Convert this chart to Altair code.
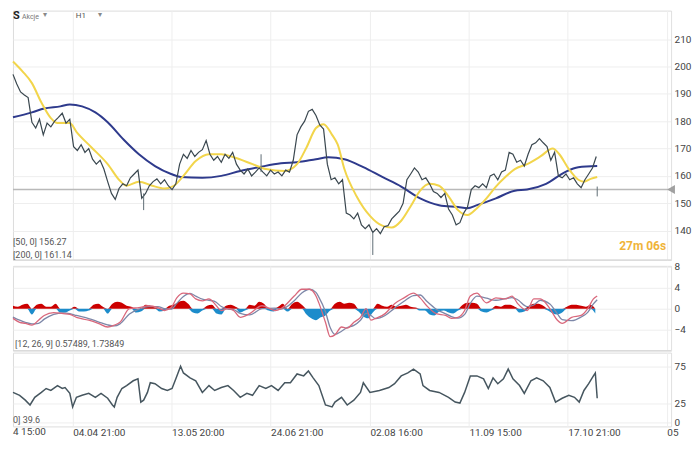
import altair as alt
import pandas as pd

# ---------------- data (x = position along the bar axis, 0 .. 695) ----------------
price_x0 = 0
price_step = 4
price_close = [
    197.1, 193.6, 190.7, 189.6, 188.6, 179.6, 177.5, 180.7, 175.0, 179.3,
    177.9, 180.0, 181.4, 182.9, 179.3, 180.7, 170.7, 169.3, 171.4, 168.6,
    170.0, 166.1, 164.3, 165.7, 162.5, 157.9, 153.6, 151.4, 155.4, 157.1,
    156.4, 159.3, 160.7, 162.1, 151.8, 153.6, 156.4, 157.9, 158.9, 157.1,
    158.6, 156.4, 155.0, 157.1, 164.3, 167.9, 166.4, 169.3, 167.1, 168.6,
    169.6, 172.9, 167.9, 165.7, 167.1, 165.0, 167.9, 166.4, 168.6, 164.3,
    162.1, 160.7, 162.5, 160.0, 161.4, 162.9, 161.4, 160.0, 162.1, 160.7,
    161.4, 160.0, 162.1, 161.4, 165.7, 175.0, 177.9, 180.0, 183.6, 184.3,
    182.1, 178.6, 177.1, 164.3, 158.6, 159.3, 157.1, 158.6, 146.4, 145.7,
    144.3, 146.4, 142.1, 140.7, 142.1, 139.3, 140.7, 138.9, 141.4, 141.8,
    144.3, 145.7, 147.1, 150.0, 158.6, 160.7, 162.9, 161.4, 158.6, 159.3,
    157.1, 154.3, 153.6, 152.1, 153.6, 147.9, 145.7, 142.1, 142.9, 146.4,
    148.6, 155.0, 156.4, 155.7, 157.1, 155.7, 160.0, 160.7, 158.6, 161.4,
    162.1, 168.6, 167.9, 165.0, 165.7, 163.6, 167.9, 171.4, 172.1, 173.6,
    172.1, 170.7, 165.7, 168.6, 160.0, 159.3, 160.7, 158.6, 159.3, 157.1,
    155.7, 158.6, 160.7, 162.9, 167.1,
]

sma50_x = [0, 10, 20, 30, 40, 47, 60, 67, 83, 100, 113, 120, 133, 147, 160, 170, 180,
           193, 207, 220, 233, 253, 267, 287, 300, 310, 320, 328, 337, 343, 350, 363,
           377, 390, 400, 410, 420, 430, 440, 450, 460, 470, 480, 490, 500, 510, 520,
           530, 543, 557, 570, 577, 587, 597, 603, 610, 617]
sma50_v = [201.8, 198.2, 193.9, 186.8, 181.1, 179.3, 179.3, 176.1, 170.4, 164.3, 158.2,
           156.4, 157.9, 156.4, 155.4, 156.4, 160.0, 165.4, 167.9, 167.9, 166.8, 164.3,
           162.5, 161.8, 164.3, 170.4, 177.5, 178.9, 175.0, 171.4, 162.5, 152.5, 145.4,
           141.8, 141.1, 143.6, 148.9, 154.6, 157.1, 156.4, 152.5, 147.5, 145.7, 148.2,
           151.8, 156.1, 159.6, 162.5, 164.3, 167.1, 170.0, 167.9, 162.5, 158.6, 157.9,
           158.9, 159.6]

sma200_x = [0, 20, 33, 50, 60, 73, 87, 100, 117, 133, 150, 167, 177, 200, 220, 240, 260,
            283, 300, 320, 333, 350, 370, 390, 410, 430, 450, 470, 480, 490, 510, 530,
            543, 563, 583, 597, 617]
sma200_v = [181.4, 183.2, 184.6, 185.4, 186.1, 185.4, 183.2, 179.6, 173.2, 167.9, 163.6,
            160.7, 159.6, 159.3, 160.0, 161.8, 163.2, 164.6, 165.0, 166.1, 166.8, 166.1,
            163.2, 159.6, 156.1, 151.8, 149.3, 148.6, 148.2, 149.3, 151.8, 154.6, 155.0,
            157.1, 161.4, 163.2, 163.6]

wick_x = [138, 262, 380, 617]
wick_low = [147.5, 161.4, 131.1, 152.5]
wick_high = [153.6, 167.9, 139.3, 156.1]

last_price = 155.0

macd_x = [0, 7, 13, 20, 27, 33, 43, 53, 60, 67, 80, 90, 100, 107, 113, 123, 133, 143, 153,
          160, 167, 173, 180, 187, 193, 200, 207, 213, 220, 227, 233, 240, 250, 263, 277,
          283, 297, 305, 313, 320, 323, 330, 335, 340, 347, 353, 360, 367, 373, 378, 383,
          393, 403, 413, 423, 430, 437, 447, 457, 463, 470, 477, 483, 490, 500, 510, 520,
          527, 533, 543, 550, 557, 567, 575, 580, 590, 600, 607, 613, 617]
macd_v = [-1.85, -2.6, -2.8, -3.15, -2.2, -1.3, -0.75, -0.95, -1.1, -1.65,
          -2.2, -2.8, -3.5, -3.15, -2.6, 0.0, 0.2, 0.55, 0.2, -0.35,
          0.2, 2.05, 2.95, 2.8, 1.85, 1.5, 1.85, 0.95, -0.35, 0.0,
          -0.35, -1.65, -0.95, 0.55, -0.35, 0.0, 2.4, 3.7, 3.7, 2.4,
          1.1, -2.6, -5.35, -5.0, -3.5, -3.7, -2.6, -1.65, 0.0, -2.2,
          -1.85, -0.95, 0.95, 2.05, 2.95, 2.05, 0.55, -0.95, -1.3, -1.85,
          -1.65, -0.35, 2.4, 2.95, 1.1, 2.05, 1.85, 2.4, 0.95, -0.35,
          1.85, 1.85, 0.0, -2.2, -2.8, -1.65, -1.3, 0.0, 1.85, 2.4]
signal_v = [-1.6, -2.2, -2.6, -2.9, -2.8, -2.0, -1.1, -0.8, -0.95, -1.3,
            -1.9, -2.5, -3.1, -3.3, -2.9, -1.0, -0.1, 0.4, 0.4, 0.0,
            -0.1, 1.0, 2.3, 2.9, 2.4, 1.8, 1.6, 1.4, 0.4, -0.1,
            -0.2, -0.9, -1.2, 0.0, 0.1, -0.1, 1.5, 3.0, 3.7, 3.1,
            2.2, -0.6, -3.6, -4.9, -4.3, -3.6, -3.2, -2.2, -0.9, -1.3,
            -1.9, -1.3, 0.1, 1.4, 2.5, 2.6, 1.4, -0.1, -1.0, -1.5,
            -1.8, -1.1, 1.0, 2.4, 2.0, 1.6, 1.9, 2.1, 1.7, 0.4,
            0.7, 1.6, 0.9, -1.0, -2.1, -2.3, -1.6, -0.7, 0.9, 1.7]

hist_x0 = 0
hist_step = 5
hist_v = [0.55, 0.37, 0.74, 0.93, -1.1, 0.74, 0.93, 0.37, 0.37, 0.93,
          -0.74, -0.74, -0.37, 0.37, -0.55, -0.55, -0.37, 0.74, 0.93, 0.37,
          -0.93, 0.93, 1.3, 1.1, 0.55, 0.37, -0.74, -0.55, 0.74, 0.55,
          0.2, -0.55, -0.37, 0.55, 0.74, 1.3, 1.5, 0.93, -0.74, -0.93,
          -0.37, 0.55, 0.74, -0.93, -1.1, 0.55, 0.74, 0.37, -0.74, -0.37,
          0.74, 0.55, 1.3, 0.93, -0.37, -0.55, 0.37, 0.93, -0.55, 0.93,
          1.3, 0.74, -1.1, -1.85, -2.2, -1.65, -1.3, -0.37, 0.93, 1.3,
          0.93, 1.1, 0.93, -0.55, -1.5, -1.85, -0.74, 0.93, 0.55, 0.37,
          0.74, 0.37, 0.55, 0.74, 0.37, 0.2, -0.37, -0.37, -1.1, -1.3,
          -0.55, -0.37, -0.74, -0.93, -0.37, 0.74, 1.1, 1.1, 0.93, -0.55,
          -0.74, -0.37, 0.55, 0.37, 0.74, 0.74, 0.37, -0.74, -0.55, 0.55,
          0.93, 0.93, 0.55, -0.37, -0.93, -1.1, -0.74, 0.37, 0.74, 0.74,
          0.55, 0.37, 0.74, -0.93]

rsi_x = [0, 7, 13, 18, 23, 30, 35, 40, 47, 52,
         55, 60, 63, 67, 73, 80, 87, 93, 100, 105,
         107, 110, 115, 120, 127, 132, 135, 138, 142, 145,
         150, 157, 163, 168, 172, 177, 180, 187, 193, 200,
         207, 213, 220, 227, 233, 240, 247, 253, 260, 267,
         273, 280, 287, 293, 300, 307, 312, 317, 323, 330,
         337, 340, 347, 353, 360, 367, 370, 377, 387, 397,
         403, 410, 417, 423, 430, 433, 440, 450, 460, 467,
         472, 477, 483, 490, 497, 502, 507, 512, 518, 523,
         528, 535, 540, 547, 553, 560, 567, 573, 580, 587,
         593, 598, 603, 608, 613, 615, 617]
rsi_v = [40.1, 36.2, 29.8, 23.3, 33.6, 40.1, 45.3, 42.7, 49.2, 45.3,
         46.6, 38.8, 20.7, 33.6, 36.2, 38.8, 33.6, 38.8, 32.3, 23.3,
         20.7, 33.6, 45.3, 49.2, 55.6, 58.2, 27.2, 29.8, 40.1, 53.0,
         51.7, 45.3, 42.7, 45.3, 58.2, 75.0, 66.0, 59.5, 55.6, 40.1,
         49.2, 42.7, 46.6, 49.2, 42.7, 33.6, 38.8, 36.2, 49.2, 45.3,
         49.2, 42.7, 53.0, 53.0, 64.7, 62.1, 68.6, 59.5, 49.2, 23.3,
         20.7, 27.2, 33.6, 23.3, 29.8, 40.1, 53.0, 40.1, 42.7, 46.6,
         51.7, 62.1, 66.0, 71.2, 64.7, 49.2, 42.7, 40.1, 33.6, 27.2,
         25.9, 40.1, 62.1, 62.1, 58.2, 45.3, 59.5, 51.7, 58.2, 71.2,
         58.2, 49.2, 38.8, 55.6, 59.5, 55.6, 46.6, 27.2, 32.3, 36.2,
         33.6, 27.2, 42.7, 51.7, 62.1, 66.0, 32.3]

x_ticks = [63, 167.5, 272, 377, 481.5, 586, 690.5]
x_tick_labels = ["04.04 21:00", "13.05 20:00", "24.06 21:00", "02.08 16:00",
                 "11.09 15:00", "17.10 21:00", "05"]
price_ticks = [140, 150, 160, 170, 180, 190, 200, 210]
macd_ticks = [-4, 0, 4, 8]
rsi_ticks = [0, 25, 75]

# ---------------- layout / style ----------------
W = 660
H_PRICE, H_MACD, H_RSI = 250, 85, 74
X_MAX = 695
FONT = "Roboto"
GRID = "#eeeeee"
TXT = "#555555"

label_expr = "''"
for v, t in reversed(list(zip(x_ticks, x_tick_labels))):
    label_expr = f"datum.value == {v} ? '{t}' : {label_expr}"

x_scale = alt.Scale(domain=[0, X_MAX], nice=False, zero=False)
axis_x_hidden = alt.Axis(values=x_ticks, labels=False, ticks=False, domain=False,
                         grid=True, gridColor=GRID, title=None)
axis_x_bottom = alt.Axis(values=x_ticks, labelExpr=label_expr, labelAlign="left",
                         labelPadding=1, labelFontSize=10, labelColor="#444444",
                         labelFont=FONT, labelOverlap=False, labelFlush=False,
                         ticks=False, domain=False, grid=True, gridColor=GRID, title=None)


def X(field, bottom=False):
    return alt.X(f"{field}:Q", scale=x_scale, axis=axis_x_bottom if bottom else axis_x_hidden)


def y_axis(values):
    return alt.Axis(orient="right", values=values, grid=True, gridColor=GRID, ticks=False,
                    domain=True, domainColor="#e2e2e2", labelColor="#444444", labelFontSize=10,
                    labelFont=FONT, labelPadding=3, title=None)


price_scale = alt.Scale(domain=[129.3, 220.4], nice=False, zero=False)
macd_scale = alt.Scale(domain=[-8.0, 8.15], nice=False, zero=False)
rsi_scale = alt.Scale(domain=[-5.2, 93.1], nice=False, zero=False)


def PY(field):
    return alt.Y(f"{field}:Q", scale=price_scale, axis=y_axis(price_ticks))


def MY(field):
    return alt.Y(f"{field}:Q", scale=macd_scale, axis=y_axis(macd_ticks))


def RY(field):
    return alt.Y(f"{field}:Q", scale=rsi_scale, axis=y_axis(rsi_ticks))


def label(text, x, y, size=9, color=TXT, weight="normal", align="left", baseline="middle"):
    return alt.Chart(pd.DataFrame({"t": [text]})).mark_text(
        align=align, baseline=baseline, fontSize=size, color=color,
        fontWeight=weight, font=FONT
    ).encode(text="t:N", x=alt.value(x), y=alt.value(y))


# ---------------- frames ----------------
price_df = pd.DataFrame({"x": [price_x0 + i * price_step for i in range(len(price_close))],
                         "p": price_close})
sma50_df = pd.DataFrame({"x": sma50_x, "p": sma50_v})
sma200_df = pd.DataFrame({"x": sma200_x, "p": sma200_v})
wick_df = pd.DataFrame({"x": wick_x, "lo": wick_low, "hi": wick_high})
last_df = pd.DataFrame({"x": [X_MAX], "p": [last_price]})
macd_df = pd.DataFrame({"x": macd_x, "m": macd_v, "s": signal_v})
hist_df = pd.DataFrame({"x": [hist_x0 + i * hist_step for i in range(len(hist_v))], "h": hist_v})
rsi_df = pd.DataFrame({"x": rsi_x, "r": rsi_v})

# ---------------- price panel ----------------
p_last = alt.Chart(last_df).mark_rule(color="#b9b9b9", strokeWidth=1.6).encode(y=PY("p"))
p_tag = alt.Chart(last_df).mark_point(shape="triangle-left", filled=True, color="#a0a0a0",
                                      size=80, opacity=1).encode(x=X("x"), y=PY("p"))
p_sma200 = alt.Chart(sma200_df).mark_line(color="#2e3a8c", strokeWidth=2,
                                          interpolate="monotone").encode(x=X("x"), y=PY("p"))
p_sma50 = alt.Chart(sma50_df).mark_line(color="#f2d54b", strokeWidth=2,
                                        interpolate="monotone").encode(x=X("x"), y=PY("p"))
p_line = alt.Chart(price_df).mark_line(color="#3a474f", strokeWidth=1.2).encode(x=X("x"), y=PY("p"))
p_wick = alt.Chart(wick_df).mark_rule(color="#5f6d75", strokeWidth=1).encode(
    x=X("x"), y=PY("lo"), y2="hi:Q")
p_divider = alt.Chart(last_df).mark_rule(color="#d6d6d6", strokeWidth=1).encode(y=alt.value(H_PRICE))

price_panel = alt.layer(
    p_last, p_sma200, p_sma50, p_line, p_wick, p_tag, p_divider,
    label("S", 0, 5, size=11, color="#222222", weight="bold"),
    label("Akcje", 9, 6, size=7, color="#777777"),
    label("▾", 30, 4, size=8, color="#888888"),
    label("H1", 63, 5, size=8, color="#555555"),
    label("▾", 85, 4, size=8, color="#888888"),
    label("[50, 0] 156.27", 0, 232),
    label("[200, 0] 161.14", 0, 245),
    label("27m 06s", 655, 236, size=12, color="#f0b43a", weight="bold", align="right"),
).properties(width=W, height=H_PRICE)

# ---------------- MACD panel ----------------
m_pos = alt.Chart(hist_df).transform_calculate(pos="max(datum.h, 0)").mark_area(
    color="#cc0000", interpolate="monotone", opacity=1
).encode(x=X("x"), y=MY("pos"), y2=alt.datum(0))
m_neg = alt.Chart(hist_df).transform_calculate(neg="min(datum.h, 0)").mark_area(
    color="#1c8ccb", interpolate="monotone", opacity=1
).encode(x=X("x"), y=MY("neg"), y2=alt.datum(0))
m_signal = alt.Chart(macd_df).mark_line(color="#7d87a8", strokeWidth=1.3,
                                        interpolate="monotone").encode(x=X("x"), y=MY("s"))
m_macd = alt.Chart(macd_df).mark_line(color="#d9687c", strokeWidth=1.3,
                                      interpolate="monotone").encode(x=X("x"), y=MY("m"))
m_divider = alt.Chart(last_df).mark_rule(color="#d6d6d6", strokeWidth=1).encode(y=alt.value(H_MACD))

macd_panel = alt.layer(
    m_pos, m_neg, m_signal, m_macd, m_divider,
    label("[12, 26, 9] 0.57489, 1.73849", 2, 78),
).properties(width=W, height=H_MACD)

# ---------------- RSI panel ----------------
r_line = alt.Chart(rsi_df).mark_line(color="#46565f", strokeWidth=1.5).encode(
    x=X("x", bottom=True), y=RY("r"))

rsi_panel = alt.layer(
    r_line,
    label("0] 39.6", 0, 68),
    label("4 15:00", 0, H_RSI + 1, size=10, color="#444444", baseline="top"),
).properties(width=W, height=H_RSI)

chart = alt.vconcat(price_panel, macd_panel, rsi_panel, spacing=0).resolve_scale(
    y="independent"
).properties(
    padding={"left": 0, "right": 0, "top": 0, "bottom": 0}
).configure_view(strokeWidth=0).configure(font=FONT)

chart.save("out.html", embed_options={"renderer": "svg", "actions": False})
